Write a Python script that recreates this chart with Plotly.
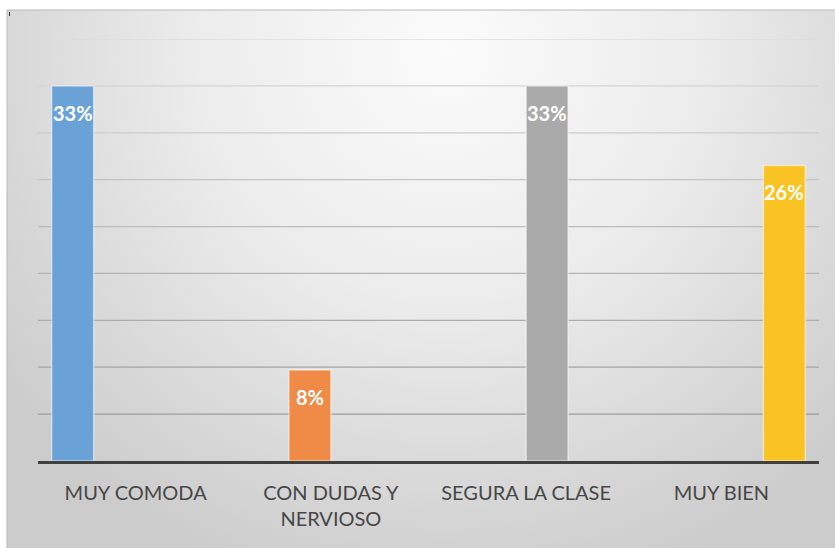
import base64
import plotly.graph_objects as go

# Survey answers and their share of responses (%)
categories = ["MUY COMODA", "CON DUDAS Y NERVIOSO", "SEGURA LA CLASE", "MUY BIEN"]
tick_labels = ["MUY COMODA", "CON DUDAS Y<br>NERVIOSO", "SEGURA LA CLASE", "MUY BIEN"]
percentages = [33, 8, 33, 26]
bar_colors = ["#6aa2d8", "#ef8a47", "#aaaaaa", "#f8c323"]

# Axis scale: nine grid steps above zero
y_step = 4.125
n_steps = 9

# Figure geometry (pixels)
W, H = 835, 548
ML, MR, MT, MB = 38, 16, 39, 87
PW, PH = W - ML - MR, H - MT - MB


def px_x(p):
    return (p - ML) / PW


def px_y(p):
    return (H - MB - p) / PH


# Each answer is its own series, placed in its own slot of a 4-slot group
slot_w = 0.215
group_start = -0.43

fig = go.Figure()
annotations = []
for i, (cat, val, col) in enumerate(zip(categories, percentages, bar_colors)):
    off = group_start + i * slot_w
    fig.add_trace(go.Bar(
        x=[cat], y=[val], width=slot_w, offset=off,
        marker=dict(color=col, line=dict(color="rgba(255,255,255,0.5)", width=1.5)),
        hoverinfo="skip", showlegend=False,
    ))
    annotations.append(dict(
        x=i + off + slot_w / 2, y=val, xref="x", yref="y",
        text=f"<b>{val}%</b>", showarrow=False, yanchor="top", yshift=-13,
        font=dict(family="Lato, 'Noto Sans', sans-serif", size=20, color="white"),
    ))

# Horizontal grid lines, fading from light at the top to darker at the bottom
shapes = []
top_c, bot_c = 0xdc, 0x9c
for k in range(1, n_steps + 1):
    t = (k - 1) / (n_steps - 1)
    c = round(bot_c + (top_c - bot_c) * t)
    shapes.append(dict(
        type="line", xref="paper", yref="y", x0=0, x1=1, y0=k * y_step, y1=k * y_step,
        line=dict(color=f"rgb({c},{c},{c})", width=1.3), layer="below",
    ))

# Chart-area frame (left and top edges) and a small marker at its corner
shapes.append(dict(type="line", xref="paper", yref="paper",
                   x0=px_x(7), x1=px_x(7), y0=px_y(10), y1=px_y(H),
                   line=dict(color="#b9b9b9", width=1)))
shapes.append(dict(type="line", xref="paper", yref="paper",
                   x0=px_x(7), x1=px_x(W), y0=px_y(10), y1=px_y(10),
                   line=dict(color="#b9b9b9", width=1)))
shapes.append(dict(type="line", xref="paper", yref="paper",
                   x0=px_x(9.5), x1=px_x(9.5), y0=px_y(12), y1=px_y(16),
                   line=dict(color="#333333", width=1)))

# Radial grey gradient behind the chart area
gw, gh = W - 7, H - 10
svg = f"""<svg xmlns='http://www.w3.org/2000/svg' width='{gw}' height='{gh}' viewBox='0 0 {gw} {gh}' preserveAspectRatio='none'>
<defs><radialGradient id='g' gradientUnits='userSpaceOnUse' cx='440' cy='40' r='560'>
<stop offset='0' stop-color='#fbfbfb'/>
<stop offset='0.45' stop-color='#ececec'/>
<stop offset='0.8' stop-color='#d7d7d7'/>
<stop offset='1' stop-color='#cccccc'/>
</radialGradient></defs>
<rect x='0' y='0' width='{gw}' height='{gh}' fill='url(#g)'/></svg>"""
bg_src = "data:image/svg+xml;base64," + base64.b64encode(svg.encode()).decode()

fig.update_layout(
    width=W, height=H,
    margin=dict(l=ML, r=MR, t=MT, b=MB, pad=0),
    paper_bgcolor="white", plot_bgcolor="rgba(0,0,0,0)",
    barmode="overlay",
    font=dict(family="Lato, 'Noto Sans', sans-serif", size=20, color="#474747"),
    xaxis=dict(
        type="category", categoryorder="array", categoryarray=categories,
        tickvals=categories, ticktext=tick_labels,
        range=[-0.5, len(categories) - 0.5],
        showgrid=False, zeroline=False, ticks="",
        showline=True, linecolor="#404040", linewidth=3,
        ticklabelstandoff=12,
        tickfont=dict(size=20, color="#474747"),
    ),
    yaxis=dict(
        range=[0, n_steps * y_step], dtick=y_step, showgrid=False,
        zeroline=False, showticklabels=False, ticks="", showline=False,
    ),
    shapes=shapes,
    annotations=annotations,
    images=[dict(
        source=bg_src, xref="paper", yref="paper",
        x=px_x(7), y=px_y(10), sizex=gw / PW, sizey=gh / PH,
        xanchor="left", yanchor="top", sizing="stretch", layer="below",
    )],
)

fig.write_html("out.html")
